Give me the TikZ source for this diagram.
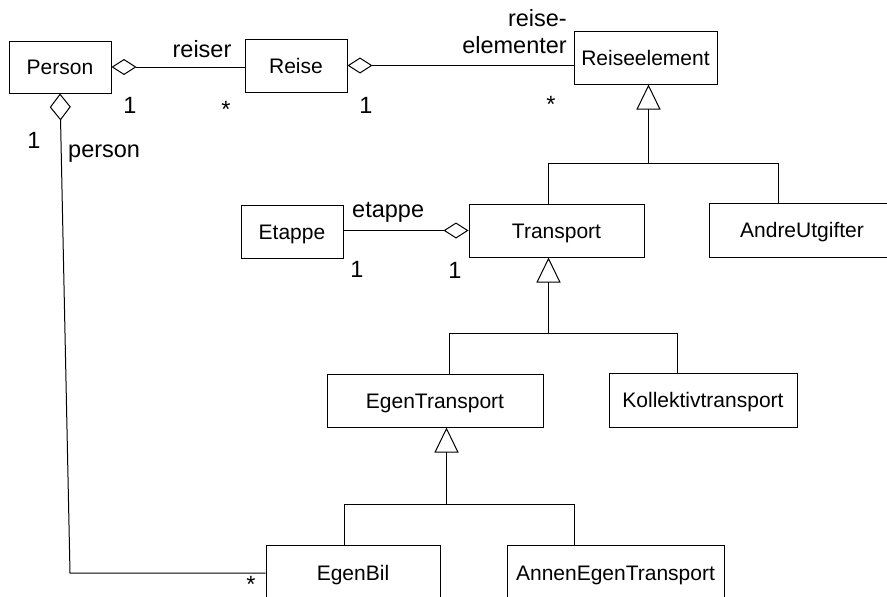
\documentclass[tikz,border=0pt]{standalone}
\usepackage{fontspec}
\setmainfont{Liberation Sans}
\usetikzlibrary{arrows.meta}
\begin{document}
\begin{tikzpicture}[x=1pt,y=-1pt,
  cls/.style={draw, line width=1pt, inner sep=0pt, text height=15pt, text depth=0pt,
              font=\fontsize{21}{25}\selectfont},
  lbl/.style={inner sep=0pt, font=\fontsize{23.5}{28}\selectfont},
  conn/.style={line width=1pt},
  agg/.style={{Diamond[open,length=25pt,width=16pt]}-},
  aggv/.style={{Diamond[open,length=27pt,width=21pt]}-},
  gen/.style={{Triangle[open,length=25pt,width=24pt]}-}]
\useasboundingbox (0,0) rectangle (887,597);
\clip (0,0) rectangle (887,597);

% classes
\node[cls, minimum width=102, minimum height=52] (person) at (60,67) {Person};
\node[cls, minimum width=102, minimum height=53] (reise) at (296,65.5) {Reise};
\node[cls, minimum width=143, minimum height=53] (reiseel) at (645.5,57.5) {Reiseelement};
\node[cls, minimum width=102, minimum height=53] (etappe) at (292,231.5) {Etappe};
\node[cls, minimum width=175, minimum height=53] (transport) at (556.5,230.5) {Transport};
\node[cls, minimum width=186, minimum height=54] (andre) at (802,230) {AndreUtgifter};
\node[cls, minimum width=216, minimum height=53] (egent) at (435,400.5) {EgenTransport};
\node[cls, minimum width=188, minimum height=54] (koll) at (703,400) {Kollektivtransport};
\node[cls, minimum width=174, minimum height=56] (egenbil) at (353,573) {EgenBil};
\node[cls, minimum width=217, minimum height=56] (annen) at (615.5,573) {AnnenEgenTransport};

% aggregations
\draw[conn, agg] (person.east) -- (person.east -| reise.west);
\draw[conn, agg] (reise.east) -- (reise.east -| reiseel.west);
\coordinate (pbend) at (70,573);
\draw[conn, aggv] (person.south) -- (pbend) -- (egenbil.west);
\draw[conn, agg] (transport.west) -- (transport.west -| etappe.east);

% generalisations
\coordinate (g1) at (648.5,163);
\coordinate (b1l) at (548,163);
\coordinate (b1r) at (778,163);
\draw[conn, gen] (g1 |- reiseel.south) -- (g1);
\draw[conn] (transport.north -| b1l) -- (b1l) -- (b1r) -- (andre.north -| b1r);

\coordinate (g2) at (548.5,333);
\coordinate (b2l) at (449,333);
\coordinate (b2r) at (677,333);
\draw[conn, gen] (g2 |- transport.south) -- (g2);
\draw[conn] (egent.north -| b2l) -- (b2l) -- (b2r) -- (koll.north -| b2r);

\coordinate (g3) at (446.5,504);
\coordinate (b3l) at (344,504);
\coordinate (b3r) at (574,504);
\draw[conn, gen] (g3 |- egent.south) -- (g3);
\draw[conn] (egenbil.north -| b3l) -- (b3l) -- (b3r) -- (annen.north -| b3r);

% labels
\node[lbl, anchor=base] (lreiser) at (202,57) {reiser};
\node[lbl, anchor=base] (m1) at (130,113) {1};
\node[lbl, anchor=base] (m2) at (226,117) {*};
\node[lbl, anchor=base] (m3) at (366,113) {1};
\node[lbl, anchor=base] (m4) at (551,112) {*};
\node[lbl, anchor=base east] (lre1) at (567,26) {reise-};
\node[lbl, anchor=base east] (lre2) at (567,53) {elementer};
\node[lbl, anchor=base] (m5) at (34,148) {1};
\node[lbl, anchor=base west] (lperson) at (68,157) {person};
\node[lbl, anchor=base west] (letappe) at (352,217) {etappe};
\node[lbl, anchor=base] (m6) at (357,277) {1};
\node[lbl, anchor=base] (m7) at (455,278) {1};
\node[lbl, anchor=base] (m8) at (251,592) {*};
\end{tikzpicture}
\end{document}
